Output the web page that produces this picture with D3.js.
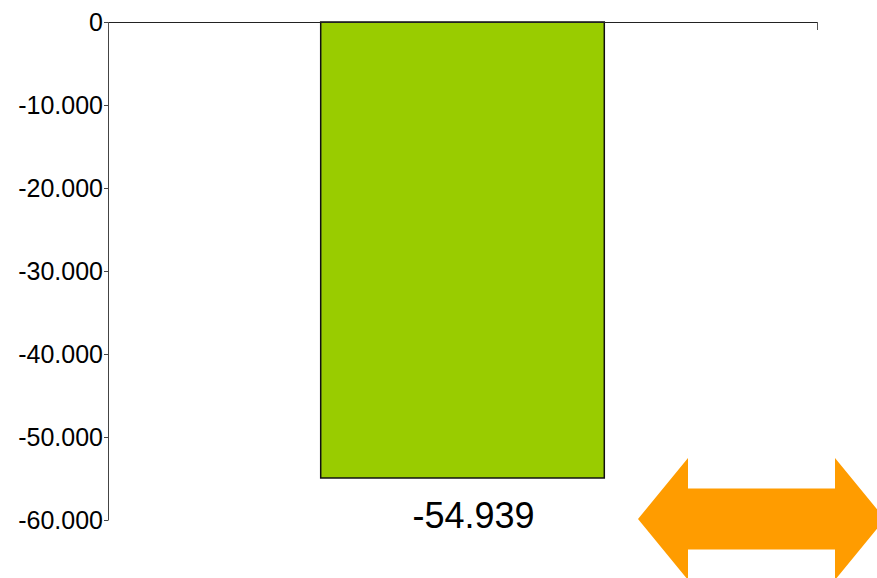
<!DOCTYPE html>
<html>
<head>
<meta charset="utf-8">
<script src="https://cdn.jsdelivr.net/npm/d3@7"></script>
<style>
  html, body { margin: 0; padding: 0; background: #fff; }
  svg text { font-family: "Liberation Sans", Arial, sans-serif; fill: #000; }
</style>
</head>
<body>
<div id="chart"></div>
<script>
var categories = [""];
var values = [-54939];
var valueLabels = ["-54.939"];
var tickValues = [0, -10000, -20000, -30000, -40000, -50000, -60000];
var tickLabels = ["0", "-10.000", "-20.000", "-30.000", "-40.000", "-50.000", "-60.000"];

var width = 877, height = 578;
var margin = { top: 22, left: 108, right: 60, bottom: 58 };

var svg = d3.select("#chart").append("svg")
  .attr("width", width)
  .attr("height", height);

var x = d3.scaleBand()
  .domain(categories)
  .range([margin.left, width - margin.right])
  .paddingInner(0.6)
  .paddingOuter(0.3);

var y = d3.scaleLinear()
  .domain([-60000, 0])
  .range([height - margin.bottom, margin.top]);

// bars
svg.selectAll("rect.bar")
  .data(values)
  .enter().append("rect")
  .attr("class", "bar")
  .attr("x", function(d, i) { return x(categories[i]); })
  .attr("y", function(d) { return y(0); })
  .attr("width", x.bandwidth())
  .attr("height", function(d) { return y(d) - y(0); })
  .attr("fill", "#99cc00")
  .attr("stroke", "#111")
  .attr("stroke-width", 1.5);

// y axis
var yAxis = d3.axisLeft(y)
  .tickValues(tickValues)
  .tickFormat(function(d, i) { return tickLabels[i]; })
  .tickSize(4)
  .tickSizeOuter(0)
  .tickPadding(1);

var gy = svg.append("g")
  .attr("transform", "translate(" + margin.left + ",0)")
  .call(yAxis);
gy.select(".domain").attr("stroke", "#444");
gy.selectAll(".tick line").attr("stroke", "#444");
gy.selectAll(".tick text")
  .attr("font-size", 25)
  .attr("font-family", "Liberation Sans, Arial, sans-serif");

// x axis along zero line, ticks at both ends
var xEdge = d3.scaleLinear().domain([0, 1]).range(x.range());
var xAxis = d3.axisBottom(xEdge)
  .tickValues([0, 1])
  .tickFormat("")
  .tickSize(8)
  .tickSizeOuter(0);
var gx = svg.append("g")
  .attr("transform", "translate(0," + y(0) + ")")
  .call(xAxis);
gx.select(".domain").attr("stroke", "#222");
gx.selectAll(".tick line").attr("stroke", "#555");

// value labels under the bars
svg.selectAll("text.value")
  .data(values)
  .enter().append("text")
  .attr("class", "value")
  .attr("x", function(d, i) { return x(categories[i]) + x.bandwidth() / 2 + 11; })
  .attr("y", y(-60000) + 8)
  .attr("text-anchor", "middle")
  .attr("font-size", 36)
  .text(function(d, i) { return valueLabels[i]; });

// orange double arrow (decoration)
var ax = 638, ay = 519, headLen = 50, headHalf = 61, shaftHalf = 30.5, aw = 247;
var arrow = [
  [ax, ay],
  [ax + headLen, ay - headHalf],
  [ax + headLen, ay - shaftHalf],
  [ax + aw - headLen, ay - shaftHalf],
  [ax + aw - headLen, ay - headHalf],
  [ax + aw, ay],
  [ax + aw - headLen, ay + headHalf],
  [ax + aw - headLen, ay + shaftHalf],
  [ax + headLen, ay + shaftHalf],
  [ax + headLen, ay + headHalf]
];
svg.append("path")
  .attr("d", d3.line()(arrow) + "Z")
  .attr("fill", "#ff9c00");
</script>
</body>
</html>
